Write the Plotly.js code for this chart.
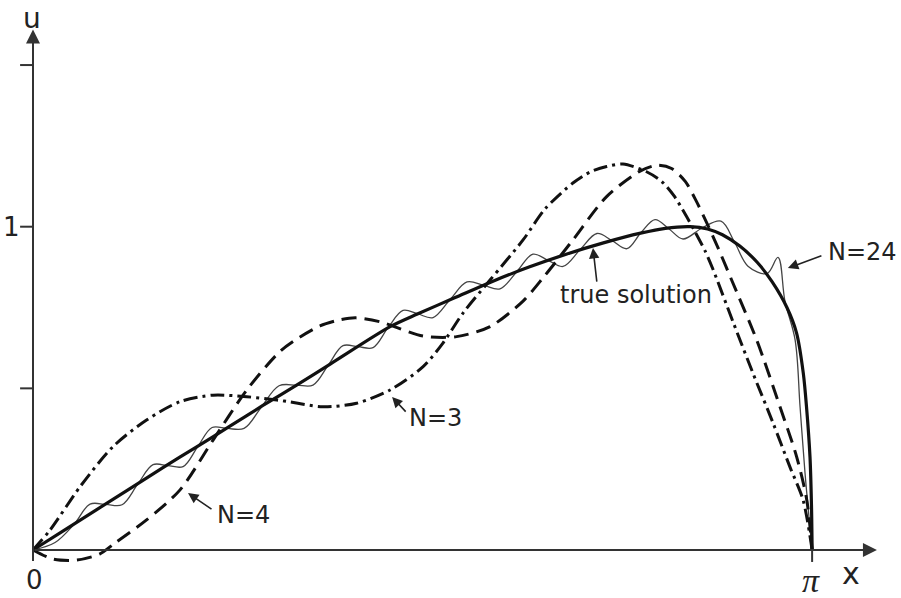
<!DOCTYPE html>
<html>
<head>
<meta charset="utf-8">
<script src="https://cdn.plot.ly/plotly-3.0.1.min.js"></script>
<style>html,body{margin:0;padding:0;background:#fff;}#chart{width:901px;height:598px;}</style>
</head>
<body>
<div id="chart"></div>
<script>
// true solution
const xTrue = [0, 0.122, 0.257, 0.391, 0.524, 0.660, 0.794, 0.927, 1.063, 1.200, 1.440, 1.550, 1.700, 1.850, 2.000, 2.150, 2.300, 2.450, 2.550, 2.650, 2.720, 2.780, 2.850, 2.920, 2.980, 3.040, 3.079, 3.106, 3.119, 3.133, 3.139, 3.1416];
const uTrue = [0, 0.059, 0.125, 0.190, 0.255, 0.319, 0.383, 0.447, 0.510, 0.576, 0.691, 0.730, 0.780, 0.830, 0.875, 0.915, 0.950, 0.980, 0.995, 1.000, 0.993, 0.975, 0.940, 0.890, 0.830, 0.750, 0.671, 0.547, 0.443, 0.289, 0.140, 0];

// N = 3 approximation
const xN3 = [0, 0.069, 0.190, 0.323, 0.458, 0.593, 0.726, 0.862, 0.983, 1.036, 1.169, 1.305, 1.440, 1.573, 1.653, 1.734, 1.843, 1.976, 2.065, 2.177, 2.246, 2.313, 2.379, 2.474, 2.535, 2.585, 2.629, 2.669, 2.710, 2.741, 2.823, 2.903, 2.984, 3.052, 3.105, 3.1416];
const uN3 = [0, 0.062, 0.196, 0.320, 0.402, 0.459, 0.479, 0.474, 0.464, 0.458, 0.443, 0.454, 0.495, 0.567, 0.640, 0.733, 0.835, 0.959, 1.055, 1.135, 1.169, 1.186, 1.194, 1.170, 1.140, 1.095, 1.040, 0.985, 0.925, 0.870, 0.705, 0.547, 0.393, 0.257, 0.155, 0];

// N = 4 approximation
const xN4 = [0, 0.081, 0.177, 0.270, 0.331, 0.458, 0.593, 0.726, 0.862, 0.996, 1.077, 1.157, 1.238, 1.302, 1.399, 1.573, 1.708, 1.843, 1.976, 2.060, 2.177, 2.313, 2.448, 2.516, 2.575, 2.630, 2.672, 2.721, 2.766, 2.817, 2.918, 3.012, 3.079, 3.120, 3.1416];
const uN4 = [0, -0.028, -0.031, -0.012, 0.022, 0.093, 0.186, 0.340, 0.495, 0.614, 0.659, 0.693, 0.712, 0.718, 0.706, 0.662, 0.660, 0.691, 0.770, 0.845, 0.959, 1.093, 1.172, 1.190, 1.180, 1.140, 1.083, 1.005, 0.928, 0.835, 0.650, 0.443, 0.289, 0.155, 0];

// N = 24 approximation
const xN24 = [0, 0.089, 0.165, 0.230, 0.294, 0.359, 0.421, 0.484, 0.544, 0.605, 0.663, 0.722, 0.784, 0.851, 0.921, 0.992, 1.063, 1.129, 1.190, 1.250, 1.310, 1.371, 1.431, 1.492, 1.552, 1.613, 1.681, 1.750, 1.817, 1.883, 1.950, 2.016, 2.077, 2.137, 2.206, 2.274, 2.335, 2.395, 2.452, 2.508, 2.565, 2.621, 2.698, 2.774, 2.829, 2.883, 2.960, 3.004, 3.032, 3.073, 3.093, 3.113, 3.1416];
const uN24 = [0, 0.023, 0.079, 0.142, 0.141, 0.140, 0.202, 0.264, 0.261, 0.258, 0.318, 0.379, 0.376, 0.376, 0.442, 0.508, 0.510, 0.510, 0.571, 0.632, 0.629, 0.626, 0.687, 0.741, 0.730, 0.719, 0.774, 0.829, 0.819, 0.808, 0.860, 0.915, 0.896, 0.877, 0.929, 0.979, 0.957, 0.932, 0.982, 1.022, 0.993, 0.962, 0.996, 1.017, 0.952, 0.878, 0.855, 0.905, 0.770, 0.650, 0.443, 0.238, 0];

// labels
const curveLabels = ["N=24", "true solution", "N=3", "N=4"];
const yTickVals = [0.5, 1, 1.5];

const PI = Math.PI;
const font = "DejaVu Sans, sans-serif";
const tc = '#222';

const traces = [
  {x: xN24, y: uN24, mode: 'lines', line: {color: '#444', width: 1.3, shape: 'spline', smoothing: 1}, hoverinfo: 'skip'},
  {x: xN4, y: uN4, mode: 'lines', line: {color: '#111', width: 3, dash: '15px,8px', shape: 'spline', smoothing: 0.8}, hoverinfo: 'skip'},
  {x: xN3, y: uN3, mode: 'lines', line: {color: '#111', width: 3, dash: '14px,5px,3px,5px', shape: 'spline', smoothing: 0.8}, hoverinfo: 'skip'},
  {x: xTrue, y: uTrue, mode: 'lines', line: {color: '#111', width: 3.2, shape: 'spline', smoothing: 0.8}, hoverinfo: 'skip'}
];

const shapes = [];
yTickVals.forEach(v => shapes.push({type: 'line', xref: 'x', yref: 'y', x0: -0.052, x1: 0, y0: v, y1: v, line: {color: '#333', width: 2}}));
shapes.push({type: 'line', xref: 'x', yref: 'y', x0: PI, x1: PI, y0: 0, y1: -0.037, line: {color: '#333', width: 2}});

const annotations = [
  // axes with arrowheads
  {x: 0, y: 1.610, xref: 'x', yref: 'y', ax: 0, ay: 533, text: '', showarrow: true, arrowhead: 2, arrowsize: 1.4, arrowwidth: 2, arrowcolor: '#333'},
  {x: 3.403, y: 0, xref: 'x', yref: 'y', ax: -844, ay: 0, text: '', showarrow: true, arrowhead: 2, arrowsize: 1.4, arrowwidth: 2, arrowcolor: '#333'},
  // axis labels
  {x: -0.004, y: 1.643, xref: 'x', yref: 'y', text: 'u', showarrow: false, borderpad: 0, font: {family: font, size: 28, color: tc}},
  {x: 0.008, y: -0.093, xref: 'x', yref: 'y', text: '0', showarrow: false, font: {family: font, size: 26, color: tc}},
  {x: 3.137, y: -0.093, xref: 'x', yref: 'y', text: '<i>π</i>', showarrow: false, font: {family: 'Liberation Serif, serif', size: 34, color: tc}},
  {x: 3.298, y: -0.074, xref: 'x', yref: 'y', text: 'x', showarrow: false, font: {family: font, size: 30, color: tc}},
  {x: -0.085, y: 1, xref: 'x', yref: 'y', text: '1', showarrow: false, font: {family: font, size: 26, color: tc}},
  // curve labels
  {x: 3.343, y: 0.922, xref: 'x', yref: 'y', text: curveLabels[0], showarrow: false, font: {family: font, size: 24, color: tc}},
  {x: 2.431, y: 0.789, xref: 'x', yref: 'y', text: curveLabels[1], showarrow: false, font: {family: font, size: 24, color: tc}},
  {x: 1.621, y: 0.408, xref: 'x', yref: 'y', text: curveLabels[2], showarrow: false, font: {family: font, size: 24, color: tc}},
  {x: 0.847, y: 0.108, xref: 'x', yref: 'y', text: curveLabels[3], showarrow: false, font: {family: font, size: 24, color: tc}},
  // pointer arrows
  {x: 3.044, y: 0.872, xref: 'x', yref: 'y', ax: 35, ay: -13, text: '', showarrow: true, arrowhead: 2, arrowsize: 1.3, arrowwidth: 1.6, arrowcolor: tc},
  {x: 2.258, y: 0.934, xref: 'x', yref: 'y', ax: 4, ay: 35, text: '', showarrow: true, arrowhead: 2, arrowsize: 1.3, arrowwidth: 1.6, arrowcolor: tc},
  {x: 1.448, y: 0.473, xref: 'x', yref: 'y', ax: 15, ay: 16, text: '', showarrow: true, arrowhead: 2, arrowsize: 1.3, arrowwidth: 1.6, arrowcolor: tc},
  {x: 0.625, y: 0.176, xref: 'x', yref: 'y', ax: 25, ay: 17, text: '', showarrow: true, arrowhead: 2, arrowsize: 1.3, arrowwidth: 1.6, arrowcolor: tc}
];

const layout = {
  width: 901, height: 598,
  margin: {l: 0, r: 0, t: 0, b: 0},
  paper_bgcolor: '#fff', plot_bgcolor: '#fff',
  showlegend: false,
  xaxis: {range: [-33/248, 868/248], visible: false, fixedrange: true},
  yaxis: {range: [-48/323.3, 550/323.3], visible: false, fixedrange: true},
  shapes: shapes,
  annotations: annotations
};

Plotly.newPlot('chart', traces, layout, {staticPlot: true, displayModeBar: false});
</script>
</body>
</html>
